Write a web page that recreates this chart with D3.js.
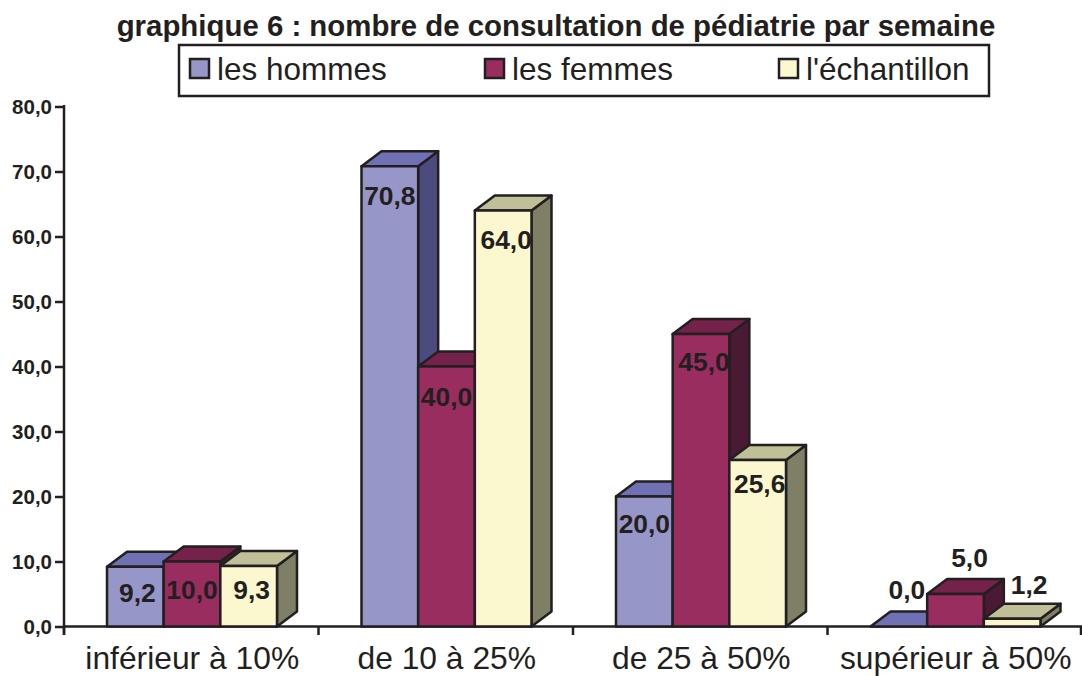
<!DOCTYPE html>
<html>
<head>
<meta charset="utf-8">
<script src="https://cdn.jsdelivr.net/npm/d3@7"></script>
<style>
  html, body { margin: 0; padding: 0; background: #fff; }
  svg { display: block; }
  text { font-family: "Liberation Sans", Arial, sans-serif; fill: #231f20; }
</style>
</head>
<body>
<div id="chart"></div>
<script>
// ------- Data -------
const categories = ["inférieur à 10%", "de 10 à 25%", "de 25 à 50%", "supérieur à 50%"]
const seriesNames = ["les hommes", "les femmes", "l'échantillon"]
const hommes = [9.2, 70.8, 20.0, 0.0]
const femmes = [10.0, 40.0, 45.0, 5.0]
const echantillon = [9.3, 64.0, 25.6, 1.2]
const yTicks = [0, 10, 20, 30, 40, 50, 60, 70, 80]
const titleText = "graphique 6 : nombre de consultation de pédiatrie par semaine"

// ------- Styles (front, top, side) -------
const colors = [
  { front: "#9696c8", top: "#7070b4", side: "#4b4b80" },
  { front: "#992d60", top: "#74224a", side: "#4a1a35" },
  { front: "#fbf8d0", top: "#bfbf98", side: "#7f7f65" }
]
const ink = "#231f20"
const depthX = 20, depthY = 15

const width = 1082, height = 676
const svg = d3.select("#chart").append("svg")
    .attr("width", width)
    .attr("height", height)

const yScale = d3.scaleLinear().domain([0, 80]).range([626.5, 106.5])
const xScale = d3.scaleBand().domain(categories).range([64, 1082])
const innerScale = d3.scaleBand().domain(seriesNames).range([43, 213])
const barW = innerScale.bandwidth()
const values = [hommes, femmes, echantillon]

// ------- Axes -------
const yAxis = svg.append("g")
    .attr("transform", "translate(64,0)")
    .call(d3.axisLeft(yScale).tickValues(yTicks).tickSize(9).tickPadding(3)
      .tickFormat(d => d3.format(".1f")(d).replace(".", ",")))
yAxis.selectAll("line").attr("stroke", ink).attr("stroke-width", 2.5)
yAxis.select(".domain").attr("stroke", ink).attr("stroke-width", 2.5)
  .attr("d", "M0,105V635")
yAxis.selectAll("text")
    .attr("font-size", 20.5).attr("font-weight", "bold")
    .style("font-family", '"Liberation Sans", Arial, sans-serif')

const xAxis = svg.append("g")
    .attr("transform", "translate(0,626.5)")
    .call(d3.axisBottom(xScale).tickSize(0).tickPadding(0))
xAxis.select(".domain").attr("stroke", ink).attr("stroke-width", 2.5)
  .attr("d", "M64,0H1082")
xAxis.selectAll(".tick").remove()

svg.selectAll(".xtick")
  .data(categories.map(c => xScale(c)).concat(1081))
  .enter().append("line")
    .attr("class", "xtick")
    .attr("x1", d => d).attr("x2", d => d)
    .attr("y1", 626).attr("y2", 635)
    .attr("stroke", ink).attr("stroke-width", 2.5)

// baseline kept just high enough that the descenders stay inside the page
svg.selectAll(".xlabel")
  .data(categories)
  .enter().append("text")
    .attr("class", "xlabel")
    .attr("x", d => xScale(d) + xScale.bandwidth() / 2 + 1)
    .attr("y", 669)
    .attr("text-anchor", "middle")
    .attr("font-size", 31.8)
    .text(d => d)

// ------- 3D bars, drawn left to right so the later ones overlap -------
const bars = []
categories.forEach((c, i) => {
  seriesNames.forEach((s, j) => {
    bars.push({ cat: c, s: j, name: s, v: values[j][i] })
  })
})

const barG = svg.selectAll(".bar").data(bars).enter().append("g").attr("class", "bar")

function pts(list) { return list.map(p => p.join(",")).join(" ") }

barG.append("polygon") // side
    .attr("points", d => {
      let x1 = xScale(d.cat) + innerScale(d.name) + barW, y0 = yScale(0), y1 = yScale(d.v)
      return pts([[x1, y0], [x1 + depthX, y0 - depthY], [x1 + depthX, y1 - depthY], [x1, y1]])
    })
    .attr("fill", d => colors[d.s].side)
barG.append("polygon") // top
    .attr("points", d => {
      let x0 = xScale(d.cat) + innerScale(d.name), y1 = yScale(d.v)
      return pts([[x0, y1], [x0 + depthX, y1 - depthY], [x0 + barW + depthX, y1 - depthY], [x0 + barW, y1]])
    })
    .attr("fill", d => colors[d.s].top)
barG.append("rect") // front
    .attr("x", d => xScale(d.cat) + innerScale(d.name))
    .attr("y", d => yScale(d.v))
    .attr("width", barW)
    .attr("height", d => yScale(0) - yScale(d.v))
    .attr("fill", d => colors[d.s].front)
barG.selectAll("polygon, rect")
    .attr("stroke", ink).attr("stroke-width", 2.5).attr("stroke-linejoin", "round")

// value labels: offset from top of bar, tweaked by hand per label
const labelNudge = [
  [[2, 35], [0, 37], [3, 33]],
  [[0, 39], [0, 39], [3, 38]],
  [[0, 36], [3, 37], [2, 33]],
  [[8, -28], [14, -27], [17, -25]]
]
svg.selectAll(".vlabel")
  .data(bars)
  .enter().append("text")
    .attr("class", "vlabel")
    .attr("x", (d, i) => xScale(d.cat) + innerScale(d.name) + barW / 2 + labelNudge[Math.floor(i / 3)][d.s][0])
    .attr("y", (d, i) => yScale(d.v) + labelNudge[Math.floor(i / 3)][d.s][1])
    .attr("text-anchor", "middle")
    .attr("font-size", 26.4)
    .attr("font-weight", "bold")
    .text(d => d3.format(".1f")(d.v).replace(".", ","))

// ------- Title -------
svg.append("text")
    .attr("x", 556).attr("y", 36)
    .attr("text-anchor", "middle")
    .attr("font-size", 29.4)
    .attr("font-weight", "bold")
    .text(titleText)

// ------- Legend -------
svg.append("rect")
    .attr("x", 179).attr("y", 45).attr("width", 810).attr("height", 51)
    .attr("fill", "#fff").attr("stroke", ink).attr("stroke-width", 2.5)

const legendX = d3.scaleOrdinal().domain(seriesNames).range([190, 485, 779])
const legend = svg.selectAll(".leg").data(seriesNames).enter().append("g").attr("class", "leg")
legend.append("rect")
    .attr("x", d => legendX(d)).attr("y", 59).attr("width", 19).attr("height", 19)
    .attr("fill", (d, i) => colors[i].front)
    .attr("stroke", ink).attr("stroke-width", 2.5)
legend.append("text")
    .attr("x", d => legendX(d) + 27).attr("y", 80)
    .attr("font-size", 31.5)
    .text(d => d)
</script>
</body>
</html>
